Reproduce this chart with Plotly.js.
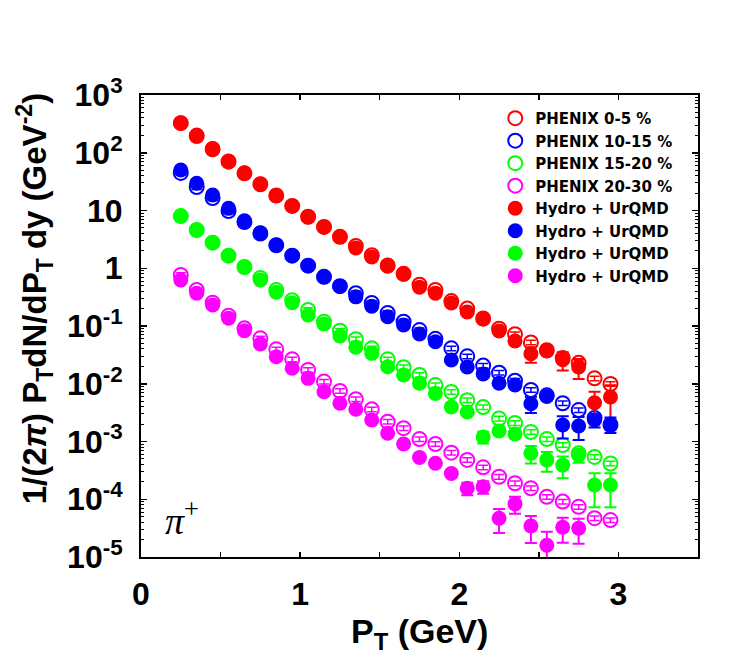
<!DOCTYPE html>
<html>
<head>
<meta charset="utf-8">
<script src="https://cdn.plot.ly/plotly-3.0.1.min.js"></script>
<style>html,body{margin:0;padding:0;background:#fff;}#chart{width:747px;height:654px;}</style>
</head>
<body>
<div id="chart"></div>
<script>
// transverse momentum bin centres (GeV)
var pt = [0.25,0.35,0.45,0.55,0.65,0.75,0.85,0.95,1.05,1.15,1.25,1.35,1.45,1.55,1.65,1.75,1.85,1.95,2.05,2.15,2.25,2.35,2.45,2.55,2.65,2.75,2.85,2.95];

// PHENIX data (open circles)
var phenix0_5   = [325,195,115,70,44,28.5,18.2,12.0,7.8,5.2,3.5,2.43,1.68,1.12,0.80,0.52,0.42,0.27,0.20,0.135,0.090,0.072,0.052,0.038,0.028,0.023,0.0124,0.0099];
var phenix10_15 = [44.7,25.5,16.4,9.8,6.3,4.0,2.5,1.65,1.11,0.71,0.49,0.37,0.25,0.168,0.119,0.085,0.060,0.041,0.0298,0.0206,0.0155,0.0113,0.0078,0.0063,0.0046,0.0035,0.00255,0.00193];
var phenix15_20 = [8.0,4.6,2.77,1.65,1.05,0.678,0.42,0.28,0.19,0.119,0.083,0.059,0.041,0.0265,0.0193,0.0142,0.0095,0.0072,0.0052,0.00395,0.0025,0.00209,0.00146,0.0011,0.00087,0.000625,0.00054,0.000416];
var phenix20_30 = [0.764,0.42,0.253,0.151,0.091,0.0612,0.0395,0.0265,0.0173,0.0109,0.0075,0.0054,0.0036,0.0022,0.0017,0.0011,0.000906,0.00064,0.00048,0.000357,0.000245,0.000189,0.000155,0.00011,0.000091,0.000074,0.000047,0.0000436];

// Hydro + UrQMD (filled circles) and their errors
var hydro0_5    = [331,203,119,72,44.6,28.7,18.0,12.0,7.7,5.2,3.5,2.24,1.57,1.09,0.79,0.47,0.37,0.25,0.175,0.132,0.082,0.055,0.033,0.037,0.026,0.0195,0.0047,0.0059];
var hydro0_5Err = [0,0,0,0,0,0,0,0,0,0,0,0,0,0,0,0.03,0.025,0.018,0.014,0.01,0.008,0.006,0.01,0.004,0.009,0.0074,0.0026,0.0035];
var hydro10_15    = [50.3,29.6,18.5,10.9,6.65,4.13,2.53,1.65,1.11,0.71,0.49,0.32,0.22,0.145,0.104,0.0726,0.0534,0.0258,0.0195,0.0148,0.0102,0.0095,0.0045,0.006,0.00193,0.00186,0.00235,0.002];
var hydro10_15Err = [0,0,0,0,0,0,0,0,0,0,0,0,0.012,0.009,0.007,0.005,0.004,0.002,0.0015,0.0013,0.0012,0.0012,0.0014,0.0008,0.0008,0.0008,0.0006,0.0006];
var hydro15_20    = [8.03,4.6,2.77,1.65,1.04,0.626,0.383,0.253,0.155,0.108,0.067,0.0428,0.0336,0.0197,0.0142,0.0102,0.0068,0.00395,0.00324,0.0012,0.00152,0.00135,0.000625,0.00048,0.00039,0.00058,0.000177,0.000177];
var hydro15_20Err = [0,0,0,0,0,0,0,0,0,0,0.005,0.004,0.003,0.002,0.0015,0.001,0.0008,0.0003,0.0002,0.00028,0.0002,0.0002,0.00021,0.00018,0.00016,0.00015,0.000104,0.000104];
var hydro20_30    = [0.626,0.368,0.231,0.136,0.083,0.0488,0.0294,0.0185,0.0124,0.00728,0.00459,0.00361,0.00236,0.00139,0.000906,0.000528,0.00042,0.00028,0.000155,0.000165,0.000047,0.000083,0.0000344,0.000016,0.0000327,0.0000314,null,null];
var hydro20_30Err = [0,0,0,0,0,0,0,0,0,0,0.0004,0.0003,0.0002,0.00012,0.00008,0.00005,0.00004,0.000035,0.000038,0.00004,0.000021,0.000027,0.000017,0.0000114,0.000015,0.0000145,0,0];

var colors = ['#ff0000','#0000ff','#00ff00','#ff00ff'];
var phenixNames = ['PHENIX 0-5 %','PHENIX 10-15 %','PHENIX 15-20 %','PHENIX 20-30 %'];
var phenixSets = [phenix0_5, phenix10_15, phenix15_20, phenix20_30];
var hydroSets = [hydro0_5, hydro10_15, hydro15_20, hydro20_30];
var hydroErrs = [hydro0_5Err, hydro10_15Err, hydro15_20Err, hydro20_30Err];

var traces = [];
for (var i = 0; i < 4; i++) {
  traces.push({
    x: pt, y: phenixSets[i], type: 'scatter', mode: 'markers', name: phenixNames[i],
    marker: {symbol: 'circle-open', size: 14, color: colors[i], line: {width: 2, color: colors[i]}},
    error_y: {type: 'percent', value: 9, color: colors[i], thickness: 1.5, width: 5},
    cliponaxis: true
  });
}
for (var j = 0; j < 4; j++) {
  traces.push({
    x: pt, y: hydroSets[j], type: 'scatter', mode: 'markers', name: 'Hydro + UrQMD',
    marker: {symbol: 'circle', size: 15, color: colors[j]},
    error_y: {type: 'data', array: hydroErrs[j], color: colors[j], thickness: 2, width: 6},
    cliponaxis: true
  });
}

var yTickVals = [1e-5,1e-4,1e-3,1e-2,1e-1,1,10,100,1000];
var yTickText = ['10<sup>-5</sup>','10<sup>-4</sup>','10<sup>-3</sup>','10<sup>-2</sup>','10<sup>-1</sup>','1','10','10<sup>2</sup>','10<sup>3</sup>'];

var tickFont = {family: 'Liberation Sans, Arial, sans-serif', size: 32, color: '#000', weight: 'bold'};

var layout = {
  width: 747, height: 654,
  margin: {l: 141, r: 49, t: 95, b: 97},
  paper_bgcolor: '#fff', plot_bgcolor: '#fff',
  showlegend: true,
  legend: {
    x: 0.636, y: 0.985, xanchor: 'left', yanchor: 'top',
    bgcolor: 'rgba(0,0,0,0)', borderwidth: 0, tracegroupgap: 0,
    font: {family: 'DejaVu Sans, sans-serif', size: 15, color: '#000', weight: 'bold'}
  },
  xaxis: {
    range: [0, 3.5], showgrid: false, zeroline: false,
    showline: true, linecolor: '#000', linewidth: 2, mirror: 'ticks',
    ticks: 'inside', ticklen: 5, tickwidth: 1.5, tickcolor: '#000',
    dtick: 1, tick0: 0,
    minor: {ticks: 'inside', dtick: 0.5, ticklen: 5, tickwidth: 1.5, tickcolor: '#000', showgrid: false},
    tickfont: tickFont, ticklabelstandoff: 8
  },
  yaxis: {
    type: 'log', range: [-5, 3], showgrid: false, zeroline: false,
    showline: true, linecolor: '#000', linewidth: 2, mirror: 'ticks',
    ticks: 'inside', ticklen: 6, tickwidth: 1.5, tickcolor: '#000',
    tickvals: yTickVals, ticktext: yTickText,
    minor: {ticks: 'inside', dtick: 'D1', ticklen: 3, tickwidth: 1, tickcolor: '#000', showgrid: false},
    tickfont: tickFont, ticklabelstandoff: 10
  },
  annotations: [
    {xref: 'paper', yref: 'paper', x: -0.192, y: 0.56, xanchor: 'center', yanchor: 'middle',
     textangle: -90, showarrow: false,
     text: '1/(2<i>π</i>) P<sub>T</sub>dN/dP<sub>T</sub> dy (GeV<sup>-2</sup>)',
     font: {family: 'Liberation Sans, Arial, sans-serif', size: 33, color: '#000', weight: 'bold'}},
    {xref: 'paper', yref: 'paper', x: 0.5, y: -0.166, xanchor: 'center', yanchor: 'middle',
     showarrow: false, text: 'P<sub>T</sub> (GeV)',
     font: {family: 'Liberation Sans, Arial, sans-serif', size: 34, color: '#000', weight: 'bold'}},
    {xref: 'x', yref: 'y', x: 0.14, y: -4.33, xanchor: 'left', yanchor: 'middle',
     showarrow: false, text: '<i>π</i><sup>+</sup>',
     font: {family: 'Liberation Serif, serif', size: 38, color: '#000'}}
  ]
};

Plotly.newPlot('chart', traces, layout, {displayModeBar: false, staticPlot: true});
</script>
</body>
</html>
